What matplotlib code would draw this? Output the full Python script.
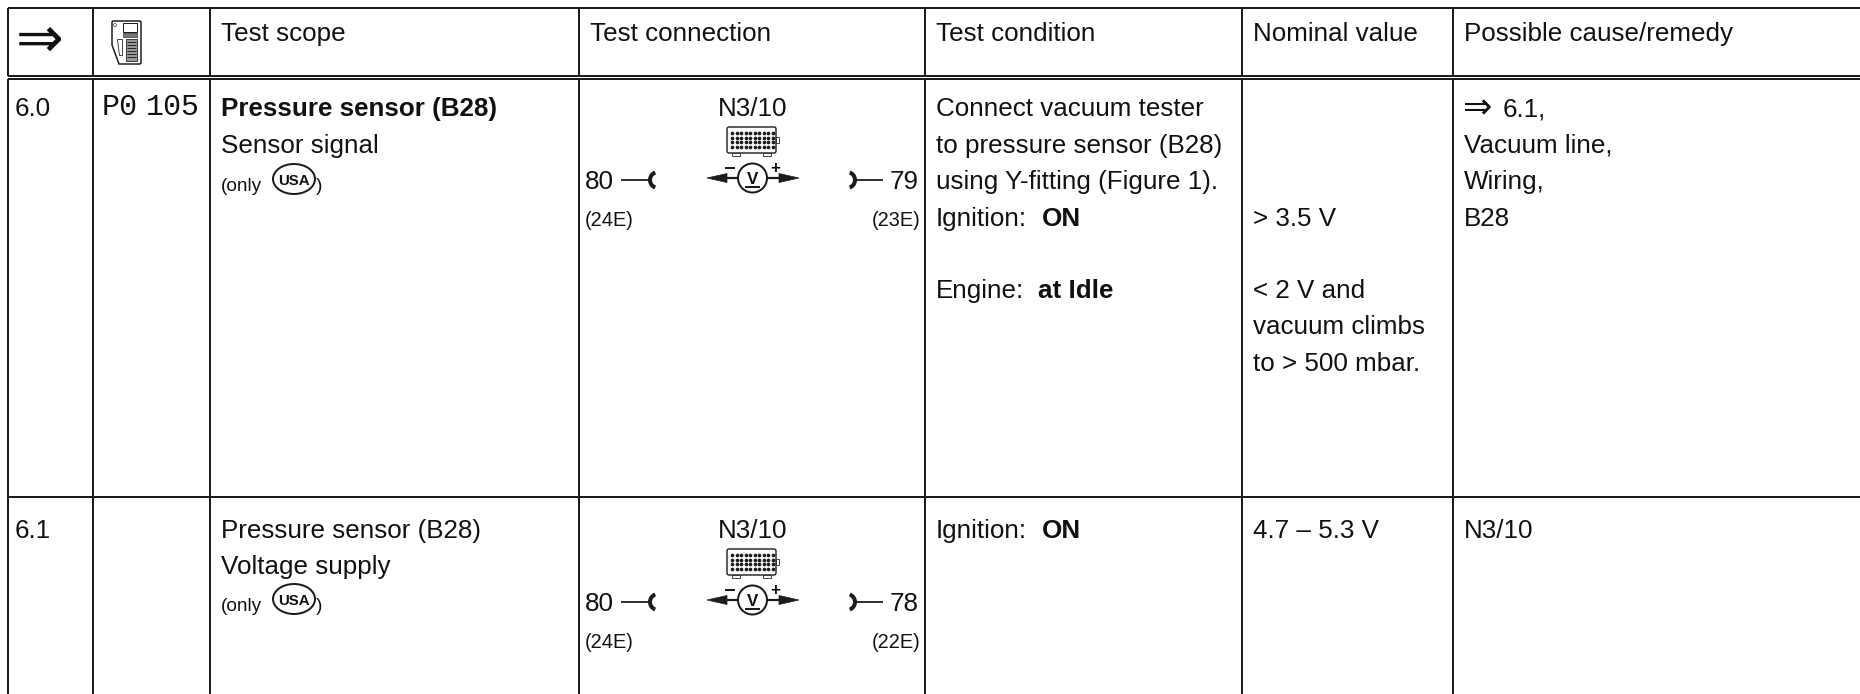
import matplotlib
matplotlib.use("Agg")
import matplotlib.pyplot as plt
from matplotlib.patches import Arc, Circle, Ellipse, Polygon, Rectangle, FancyBboxPatch

# table content
header_labels = ["Test scope", "Test connection", "Test condition", "Nominal value", "Possible cause/remedy"]
row_numbers = ["6.0", "6.1"]
fault_code = ["P0", "105"]
scope_title = ["Pressure sensor (B28)", "Pressure sensor (B28)"]
scope_sub = ["Sensor signal", "Voltage supply"]
module_name = "N3/10"
left_pin = ["80", "80"]
left_pin_sub = ["(24E)", "(24E)"]
right_pin = ["79", "78"]
right_pin_sub = ["(23E)", "(22E)"]
condition_lines = ["Connect vacuum tester", "to pressure sensor (B28)", "using Y-fitting (Figure 1)."]
nominal_lines = ["> 3.5 V", "< 2 V and", "vacuum climbs", "to > 500 mbar."]
remedy_lines = ["6.1,", "Vacuum line,", "Wiring,", "B28"]
second_nominal = "4.7 – 5.3 V"
second_remedy = "N3/10"

W, H = 1860, 694
INK = "#1c1c1c"
FONT = "Liberation Sans"
PX = 0.72  # px to pt at dpi 100
BODY = 26

fig = plt.figure(figsize=(W / 100, H / 100), dpi=100)
ax = fig.add_axes([0, 0, 1, 1])
ax.set_xlim(0, W)
ax.set_ylim(H, 0)
ax.axis("off")


def txt(x, y, s, size=BODY, weight="normal", ha="left", family=FONT):
    ax.text(x, y + 1, s, fontsize=size * PX, fontweight=weight, ha=ha, va="baseline",
            family=family, color="#111111")


def line(xs, ys, lw=2.0):
    ax.plot(xs, ys, color=INK, lw=lw * PX, solid_capstyle="butt")


# grid
col_x = [8, 93, 210, 579, 925, 1242, 1453]
for x in col_x:
    line([x, x], [8, 76])
    line([x, x], [79, H])
for y in [8, 76, 79, 497]:
    line([8, W], [y, y])

# header
txt(16, 56, "⇒", size=57, family="DejaVu Sans")
header_x = [221, 590, 936, 1253, 1464]
for x, s in zip(header_x, header_labels):
    txt(x, 40, s)

# tester icon in the header
ax.add_patch(Polygon([(112, 22), (113, 21), (140, 21), (141, 22), (141, 63), (140, 64), (119, 64), (112, 45)],
                     closed=True, fc="white", ec=INK, lw=1.5 * PX))
ax.add_patch(Rectangle((123, 23), 14, 9, fc="white", ec=INK, lw=1.0 * PX))
ax.add_patch(Rectangle((123, 33), 14, 4, fc="#777777", ec=INK, lw=0.6 * PX))
ax.add_patch(Polygon([(117, 39), (122, 39), (122, 55), (119, 55)], fc="white", ec=INK, lw=0.8 * PX))
ax.add_patch(Rectangle((126, 39), 11, 22, fc="#999999", ec=INK, lw=0.8 * PX))
for ky in range(42, 60, 3):
    line([127, 136], [ky, ky], 0.9)
ax.add_patch(Circle((115, 25), 1.5, fc="white", ec=INK, lw=0.6 * PX))

txt(102, 114, fault_code[0], size=30, family="Liberation Mono")
txt(146, 114, fault_code[1], size=30, family="Liberation Mono")


def usa_note(y):
    txt(221, y, "(only", size=19)
    ax.add_patch(Ellipse((294, y - 11), 42, 30, fc="white", ec=INK, lw=2.0 * PX))
    txt(294, y - 6, "USA", size=15, weight="bold", ha="center")
    txt(316, y, ")", size=19)


def connection(y, i):
    txt(753, y, module_name, ha="center")
    # control module box
    top = y + 12
    ax.add_patch(FancyBboxPatch((727, top), 49, 26, boxstyle="round,pad=0,rounding_size=2",
                                fc="white", ec=INK, lw=1.4 * PX))
    ax.add_patch(Rectangle((776, top + 10), 2.5, 6, fc="white", ec=INK, lw=0.8 * PX))
    ax.add_patch(Rectangle((732, top + 26), 8, 3, fc="white", ec=INK, lw=0.8 * PX))
    ax.add_patch(Rectangle((763, top + 26), 8, 3, fc="white", ec=INK, lw=0.8 * PX))
    ax.scatter([732 + 4.5 * c for c in range(10) for r in range(4)],
               [top + 6 + 4.6 * r for c in range(10) for r in range(4)],
               s=7, color=INK, linewidths=0)
    # meter symbol
    cy = y + 63
    line([715, 738], [cy, cy], 2.2)
    line([767, 790], [cy, cy], 2.2)
    ax.add_patch(Polygon([(707, cy), (727, cy - 4.5), (727, cy + 4.5)], fc=INK, ec=INK, lw=0.5))
    ax.add_patch(Polygon([(799, cy), (779, cy - 4.5), (779, cy + 4.5)], fc=INK, ec=INK, lw=0.5))
    ax.add_patch(Circle((752.5, cy), 14.5, fc="white", ec=INK, lw=2.0 * PX))
    txt(752.5, cy + 5, "V", size=17, weight="bold", ha="center")
    line([745, 760], [cy + 9, cy + 9], 2.0)
    line([725, 735], [cy - 10, cy - 10], 2.0)
    txt(775, cy - 6, "+", size=17, weight="bold", ha="center")
    # probes
    ly = y + 65
    txt(585, y + 73, left_pin[i])
    line([621, 650], [ly, ly], 1.8)
    ax.add_patch(Arc((658, ly), 16, 16, theta1=110, theta2=250, color=INK, lw=4.0 * PX))
    txt(919, y + 73, right_pin[i], ha="right")
    line([855, 883], [ly, ly], 1.8)
    ax.add_patch(Arc((847, ly), 16, 16, theta1=-70, theta2=70, color=INK, lw=4.0 * PX))
    txt(585, y + 110, left_pin_sub[i], size=20)
    txt(920, y + 110, right_pin_sub[i], size=20, ha="right")


# row 6.0
y0 = 115
txt(15, y0, row_numbers[0])
txt(221, y0, scope_title[0], weight="bold")
txt(221, y0 + 37, scope_sub[0])
usa_note(y0 + 75)
connection(y0, 0)
for k, s in enumerate(condition_lines):
    txt(936, y0 + 36.7 * k, s)
txt(936, 225, "Ignition:")
txt(1042, 225, "ON", weight="bold")
txt(936, 297, "Engine:")
txt(1038, 297, "at Idle", weight="bold")
for y, s in zip([225, 297, 333, 370], nominal_lines):
    txt(1253, y, s)
txt(1463, y0 + 2, "⇒", size=35, family="DejaVu Sans")
txt(1503, y0, remedy_lines[0])
for k, s in enumerate(remedy_lines[1:]):
    txt(1464, y0 + 36.7 * (k + 1), s)

# row 6.1
y1 = 537
txt(15, y1, row_numbers[1])
txt(221, y1, scope_title[1])
txt(221, y1 + 36, scope_sub[1])
usa_note(y1 + 73)
connection(y1, 1)
txt(936, y1, "Ignition:")
txt(1042, y1, "ON", weight="bold")
txt(1253, y1, second_nominal)
txt(1464, y1, second_remedy)

fig.savefig("out.png", dpi=100, facecolor="white")
